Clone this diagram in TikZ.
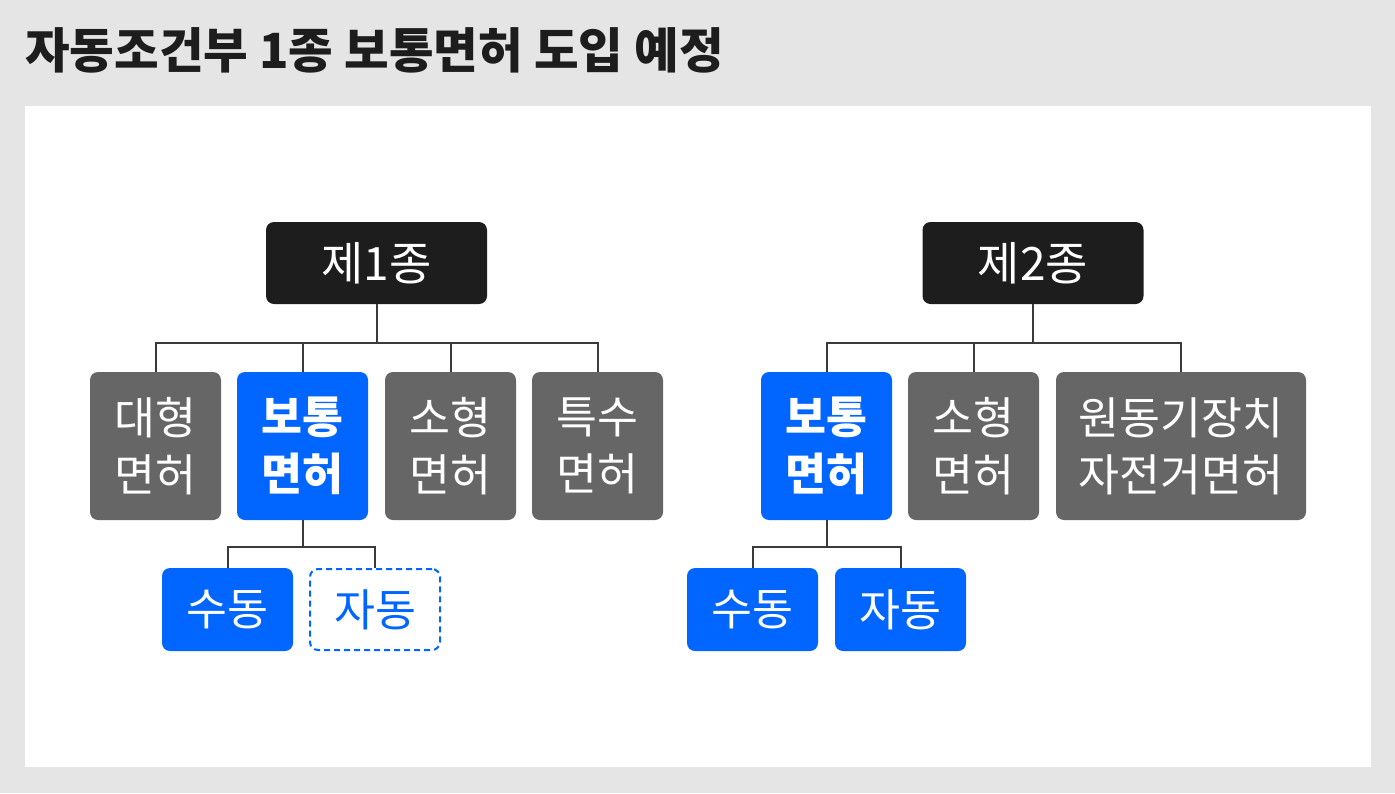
\documentclass[tikz,border=0pt]{standalone}
\usepackage{fontspec}
\setmainfont{Noto Sans CJK KR}
\definecolor{bgc}{HTML}{E5E5E5}
\definecolor{darkc}{HTML}{1D1D1D}
\definecolor{grayc}{HTML}{666666}
\definecolor{bluec}{HTML}{0066FF}
\definecolor{linec}{HTML}{3A3A3A}
\tikzset{
  box/.style={rounded corners=8pt, text=white, align=center, inner sep=0pt,
    font=\fontsize{44.5}{57}\selectfont},
  darkbox/.style={box, fill=darkc, minimum width=221pt, minimum height=82pt,
    font=\fontsize{46}{57}\selectfont},
  graybox/.style={box, fill=grayc, minimum width=131pt, minimum height=148pt},
  bluebox/.style={box, fill=bluec, minimum width=131pt, minimum height=148pt,
    font=\fontsize{44.5}{57}\selectfont\bfseries},
  leafbox/.style={box, fill=bluec, minimum width=131pt, minimum height=83pt},
  dashbox/.style={box, fill=white, draw=bluec, line width=2pt, dash pattern=on 6pt off 4pt,
    text=bluec, minimum width=130pt, minimum height=81pt},
  conn/.style={draw=linec, line width=2pt}
}
\begin{document}
\begin{tikzpicture}[x=1pt,y=-1pt]
\fill[bgc] (0,0) rectangle (1395,793);
\fill[white] (25,106) rectangle (1371,767);
\node[anchor=west, inner sep=0pt, font=\fontsize{48.5}{56}\selectfont\bfseries, text=darkc] (title) at (25,50) {자동조건부 1종 보통면허 도입 예정};

% left tree
\node[darkbox] (t1) at (376.5,263) {제1종};
\node[graybox] (a1) at (155.5,446) {대형\\면허};
\node[bluebox] (a2) at (302.5,446) {보통\\면허};
\node[graybox] (a3) at (450.5,446) {소형\\면허};
\node[graybox] (a4) at (597.5,446) {특수\\면허};
\node[leafbox] (c1) at (227.5,609.5) {수동};
\node[dashbox] (c2) at (375,609.5) {자동};
\coordinate (b1) at (376.5,343);
\coordinate (d1) at (302.5,547);

% right tree
\node[darkbox] (t2) at (1033,263) {제2종};
\node[bluebox] (e1) at (826.5,446) {보통\\면허};
\node[graybox] (e2) at (973.5,446) {소형\\면허};
\node[graybox, minimum width=250pt] (e3) at (1181,446) {원동기장치\\자전거면허};
\node[leafbox] (f1) at (752.5,609.5) {수동};
\node[leafbox] (f2) at (900.5,609.5) {자동};
\coordinate (b2) at (1033,343);
\coordinate (d2) at (826.5,547);

\draw[conn] (t1.south) -- (b1);
\draw[conn] (a1.north) |- (b1);
\draw[conn] (a4.north) |- (b1);
\draw[conn] (a2.north) -- (a2.north |- b1);
\draw[conn] (a3.north) -- (a3.north |- b1);
\draw[conn] (a2.south) -- (d1);
\draw[conn] (c1.north) |- (d1);
\draw[conn] (c2.north) |- (d1);

\draw[conn] (t2.south) -- (b2);
\draw[conn] (e1.north) |- (b2);
\draw[conn] (e3.north) |- (b2);
\draw[conn] (e2.north) -- (e2.north |- b2);
\draw[conn] (e1.south) -- (d2);
\draw[conn] (f1.north) |- (d2);
\draw[conn] (f2.north) |- (d2);
\end{tikzpicture}
\end{document}
